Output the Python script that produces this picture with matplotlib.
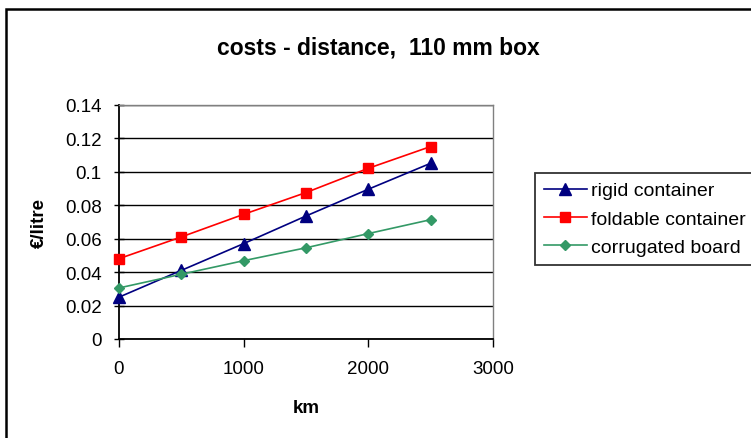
import matplotlib
matplotlib.use("Agg")
import matplotlib.pyplot as plt
from matplotlib.patches import Rectangle

plt.rcParams["font.family"] = ["Liberation Sans", "DejaVu Sans"]

# costs per litre against transport distance
distance_km = [0, 500, 1000, 1500, 2000, 2500]
rigid       = [0.025, 0.041, 0.057, 0.0735, 0.0895, 0.105]
foldable    = [0.048, 0.061, 0.0745, 0.0875, 0.102, 0.115]
corrugated  = [0.0305, 0.0387, 0.0468, 0.0545, 0.063, 0.0713]

series = [
    ("rigid container",    rigid,      "#000080", "^", 8),
    ("foldable container", foldable,   "#ff0000", "s", 7.5),
    ("corrugated board",   corrugated, "#339966", "D", 5.5),
]

fig = plt.figure(figsize=(7.51, 4.39), dpi=100)
ax = fig.add_axes([119 / 751, 1 - 340 / 439, 374 / 751, 234.3 / 439])

for label, vals, col, mk, ms in series:
    ax.plot(distance_km, vals, color=col, marker=mk, markersize=ms,
            linewidth=1.2, label=label, clip_on=False, zorder=3)

ax.set_xlim(0, 3000)
ax.set_ylim(0, 0.14)
ax.set_xticks([0, 1000, 2000, 3000])
ax.set_yticks([0, 0.02, 0.04, 0.06, 0.08, 0.1, 0.12, 0.14])
ax.set_yticklabels(["0", "0.02", "0.04", "0.06", "0.08", "0.1", "0.12", "0.14"])
ax.grid(axis="y", color="black", linewidth=1.0)
ax.set_axisbelow(True)

ax.tick_params(axis="y", direction="inout", length=7, width=1.0, labelsize=13.5, pad=9)
ax.tick_params(axis="x", direction="out", length=6, width=1.0, labelsize=13.5, pad=9)
for side in ("left", "bottom"):
    ax.spines[side].set_linewidth(1.3)
for side in ("top", "right"):
    ax.spines[side].set_color("#808080")
    ax.spines[side].set_linewidth(1.0)

ax.set_xlabel("km", fontsize=13.5, fontweight="bold", labelpad=16)
ax.set_ylabel("€/litre", fontsize=13.5, fontweight="bold", labelpad=12)

fig.text(378 / 751, 1 - 48 / 439, "costs - distance,  110 mm box",
         ha="center", va="center", fontsize=16.5, fontweight="bold")

leg = fig.legend(loc="upper left", bbox_to_anchor=(535 / 751, 1 - 174 / 439),
                 frameon=True, fancybox=False, fontsize=14, handlelength=2.2,
                 handletextpad=0.25, labelspacing=0.55, borderpad=0.45,
                 borderaxespad=0)
leg.get_frame().set_edgecolor("black")
leg.get_frame().set_linewidth(1.3)

# outer chart border
fig.patches.append(Rectangle((6 / 751, -0.2), 1.2, 1.2 - 10 / 439,
                             transform=fig.transFigure, fill=False,
                             edgecolor="black", linewidth=1.8))

fig.savefig("out.png", dpi=100)
